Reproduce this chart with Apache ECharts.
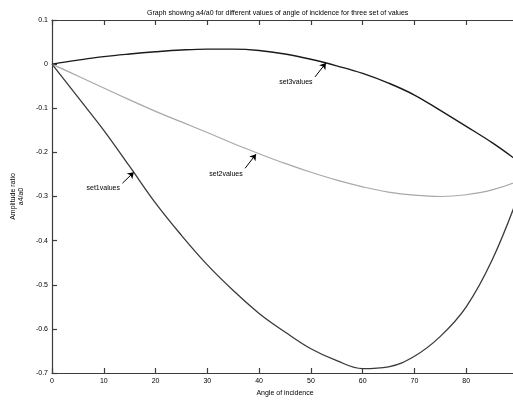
<!DOCTYPE html>
<html>
<head>
<meta charset="utf-8">
<script src="https://cdn.jsdelivr.net/npm/echarts@6/dist/echarts.min.js"></script>
<style>html,body{margin:0;padding:0;background:#fff}#c{width:513px;height:400px}</style>
</head>
<body>
<div id="c"></div>
<script>
// ---- data ----
const angles = [0, 5, 10, 15, 20, 25, 30, 35, 40, 45, 50, 55, 60, 65, 70, 75, 80, 85, 90];
const set1values = [0, -0.075, -0.150, -0.232, -0.315, -0.388, -0.455, -0.513, -0.565, -0.607, -0.645, -0.672, -0.690, -0.686, -0.662, -0.617, -0.550, -0.444, -0.300];
const set2values = [0, -0.027, -0.054, -0.081, -0.107, -0.131, -0.155, -0.180, -0.203, -0.225, -0.245, -0.263, -0.278, -0.290, -0.297, -0.300, -0.296, -0.285, -0.265];
const set3values = [0, 0.009, 0.017, 0.023, 0.028, 0.032, 0.034, 0.034, 0.031, 0.023, 0.011, -0.004, -0.021, -0.043, -0.070, -0.105, -0.141, -0.178, -0.220];
const xTicks = [0, 10, 20, 30, 40, 50, 60, 70, 80, 90];
const yTicks = [0.1, 0, -0.1, -0.2, -0.3, -0.4, -0.5, -0.6, -0.7];
const seriesNames = ['set1values', 'set2values', 'set3values'];
// annotation: [arrow head (on curve), arrow tail, text centre] in data units
const annotations = [
  { text: 'set1values', head: [15.8, -0.245], tail: [13.6, -0.270], label: [9.9, -0.281] },
  { text: 'set2values', head: [39.4, -0.204], tail: [37.3, -0.236], label: [33.6, -0.249] },
  { text: 'set3values', head: [52.9, 0.0025], tail: [50.8, -0.029], label: [47.1, -0.041] }
];
const titleText = 'Graph showing a4/a0 for different values of angle of incidence for three set of values';
const xName = 'Angle of incidence';
const yName = 'Amplitude ratio\na4/a0';

// ---- chart ----
const FONT = 'Liberation Sans';
const colors = ['#3a3a3a', '#a8a8a8', '#1a1a1a'];
const widths = [1.3, 1.2, 1.4];
const allVals = [set1values, set2values, set3values];

function axisBase() {
  return {
    axisLine: { show: true, onZero: false, lineStyle: { color: '#3c3c3c', width: 1.2 } },
    axisTick: { show: true, inside: true, length: 5, lineStyle: { color: '#3c3c3c', width: 1.2 } },
    splitLine: { show: false }
  };
}

const series = allVals.map((vals, i) => {
  const a = annotations[i];
  return {
    name: seriesNames[i],
    type: 'line',
    xAxisIndex: 0, yAxisIndex: 0,
    data: angles.map((x, j) => [x, vals[j]]),
    smooth: 0.4,
    showSymbol: false,
    symbol: 'none',
    lineStyle: { color: colors[i], width: widths[i] },
    z: 3,
    markLine: {
      silent: true,
      symbol: ['none', 'arrow'],
      symbolSize: 6,
      lineStyle: { color: '#000', width: 1, type: 'solid' },
      itemStyle: { color: '#000' },
      label: { show: false },
      data: [[{ coord: a.tail }, { coord: a.head }]]
    },
    markPoint: {
      silent: true,
      symbol: 'circle',
      symbolSize: 1,
      itemStyle: { color: 'rgba(0,0,0,0)' },
      label: { show: true, position: 'inside', formatter: a.text, color: '#000', fontFamily: FONT, fontSize: 7 },
      data: [{ coord: a.label }]
    }
  };
});

const chart = echarts.init(document.getElementById('c'), null, { renderer: 'canvas' });
chart.setOption({
  animation: false,
  backgroundColor: '#fff',
  title: {
    text: titleText,
    left: 142, top: 5,
    textStyle: { fontFamily: FONT, fontSize: 7, fontWeight: 'normal', color: '#000' }
  },
  grid: { left: 52, right: -5, top: 20, bottom: 27, containLabel: false, outerBoundsMode: 'none' },
  xAxis: [
    Object.assign(axisBase(), {
      type: 'value', position: 'bottom', min: xTicks[0], max: xTicks[xTicks.length - 1], interval: 10,
      name: xName, nameLocation: 'middle', nameGap: 16,
      nameTextStyle: { fontFamily: FONT, fontSize: 7, color: '#000' },
      axisLabel: { show: true, margin: 5, fontFamily: FONT, fontSize: 7, color: '#000' }
    }),
    Object.assign(axisBase(), {
      type: 'value', position: 'top', min: xTicks[0], max: xTicks[xTicks.length - 1], interval: 10,
      axisLabel: { show: false }
    })
  ],
  yAxis: [
    Object.assign(axisBase(), {
      type: 'value', position: 'left', min: yTicks[yTicks.length - 1], max: yTicks[0], interval: 0.1,
      name: yName, nameLocation: 'middle', nameGap: 15, nameRotate: 90,
      nameTextStyle: { fontFamily: FONT, fontSize: 7, color: '#000', lineHeight: 8 },
      axisLabel: { show: true, margin: 4, fontFamily: FONT, fontSize: 7, color: '#000',
        formatter: v => String(+(+v).toFixed(1)) }
    }),
    Object.assign(axisBase(), {
      type: 'value', position: 'right', min: yTicks[yTicks.length - 1], max: yTicks[0], interval: 0.1,
      axisLabel: { show: false }
    })
  ],
  series: series
});
</script>
</body>
</html>
